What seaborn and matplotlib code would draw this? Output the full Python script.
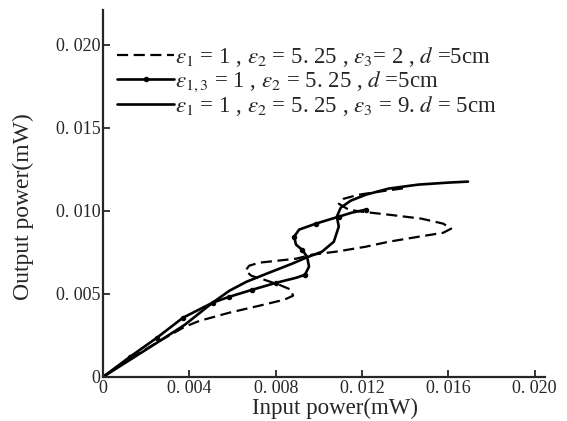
import matplotlib
matplotlib.use("Agg")
import matplotlib.pyplot as plt
import seaborn as sns

# eps3 = 2 (dashed)
dash_x = [0, 0.00124, 0.00263, 0.00378, 0.00447, 0.00585, 0.00724, 0.00839, 0.00880,
          0.00871, 0.00816, 0.00747, 0.00687, 0.00659, 0.00677, 0.00724, 0.00894,
          0.00968, 0.01078, 0.01217, 0.01323, 0.01461, 0.01576, 0.01613, 0.01576,
          0.01475, 0.01323, 0.01198, 0.01138, 0.01092, 0.01115, 0.01184, 0.01276, 0.01415]
dash_y = [0, 0.00108, 0.00217, 0.00301, 0.00337, 0.00386, 0.00428, 0.00464, 0.00488,
          0.00524, 0.00554, 0.00584, 0.00608, 0.00639, 0.00669, 0.00687, 0.00711,
          0.00735, 0.00753, 0.00783, 0.00813, 0.00843, 0.00867, 0.00892, 0.00922,
          0.00952, 0.00976, 0.00994, 0.01006, 0.01042, 0.01072, 0.01096, 0.01114, 0.01139]

# eps1,3 = 1 (line with dots)
dot_x = [0, 0.00124, 0.00249, 0.00369, 0.00507, 0.00585, 0.00691, 0.00802, 0.00894,
         0.00935, 0.00954, 0.00945, 0.00922, 0.00894, 0.00885, 0.00908, 0.00986,
         0.01046, 0.01092, 0.01152, 0.01217]
dot_y = [0, 0.00120, 0.00235, 0.00355, 0.00446, 0.00482, 0.00524, 0.00566, 0.00596,
         0.00614, 0.00663, 0.00723, 0.00765, 0.00795, 0.00843, 0.00886, 0.00922,
         0.00946, 0.00964, 0.00988, 0.01006]

# eps3 = 9 (solid)
solid_x = [0, 0.00124, 0.00249, 0.00378, 0.00507, 0.00585, 0.00664, 0.00756, 0.00876,
           0.00940, 0.01014, 0.01069, 0.01092, 0.01083, 0.01101, 0.01147, 0.01217,
           0.01323, 0.01461, 0.01599, 0.01691]
solid_y = [0, 0.00102, 0.00205, 0.00313, 0.00446, 0.00518, 0.00572, 0.00620, 0.00681,
           0.00717, 0.00753, 0.00813, 0.00904, 0.00964, 0.01018, 0.01060, 0.01096,
           0.01133, 0.01157, 0.01169, 0.01175]

labels = [
    r"$\varepsilon_1$ = 1 , $\varepsilon_2$ = 5. 25 , $\varepsilon_3$= 2 , $d$ =5cm",
    r"$\varepsilon_{1,3}$ = 1 , $\varepsilon_2$ = 5. 25 , $d$ =5cm",
    r"$\varepsilon_1$ = 1 , $\varepsilon_2$ = 5. 25 , $\varepsilon_3$ = 9. $d$ = 5cm",
]

x_ticks = [0, 0.004, 0.008, 0.012, 0.016, 0.020]
x_tick_labels = ["0", "0. 004", "0. 008", "0. 012", "0. 016", "0. 020"]
y_ticks = [0, 0.005, 0.010, 0.015, 0.020]
y_tick_labels = ["0", "0. 005", "0. 010", "0. 015", "0. 020"]

sns.set_style("ticks")
plt.rcParams["font.family"] = ["Liberation Serif", "DejaVu Serif"]
plt.rcParams["mathtext.fontset"] = "stix"

fig = plt.figure(figsize=(5.67, 4.21), dpi=100)
ax = fig.add_axes([0.182, 0.105, 0.78, 0.872])

sns.lineplot(x=dash_x, y=dash_y, sort=False, estimator=None, ax=ax, color="black",
             linewidth=1.6, linestyle=(0, (5, 2.5)), label=labels[0])
sns.lineplot(x=dot_x, y=dot_y, sort=False, estimator=None, ax=ax, color="black",
             linewidth=1.9, marker="o", markersize=3.2, markevery=0.04,
             markerfacecolor="black", markeredgecolor="black", label=labels[1])
sns.lineplot(x=solid_x, y=solid_y, sort=False, estimator=None, ax=ax, color="black",
             linewidth=1.9, label=labels[2])

ax.set_xlim(0, 0.0205)
ax.set_ylim(0, 0.0221)
ax.set_xticks(x_ticks)
ax.set_xticklabels(x_tick_labels, fontsize=13)
ax.set_yticks(y_ticks)
ax.set_yticklabels(y_tick_labels, fontsize=13)
ax.tick_params(direction="in", length=5, width=1.3, pad=2)
sns.despine(ax=ax)
for s in ["left", "bottom"]:
    ax.spines[s].set_linewidth(1.6)

ax.set_xlabel("Input power(mW)", fontsize=16.5)
ax.set_ylabel("Output power(mW)", fontsize=17)
ax.xaxis.set_label_coords(0.525, -0.058)
ax.yaxis.set_label_coords(-0.156, 0.463)

ax.legend(loc="upper left", bbox_to_anchor=(0.0, 0.94), frameon=False, fontsize=16.5,
          handlelength=2.5, handletextpad=0.05, labelspacing=0.0, borderaxespad=0.2)

fig.savefig("out.png", dpi=100)
